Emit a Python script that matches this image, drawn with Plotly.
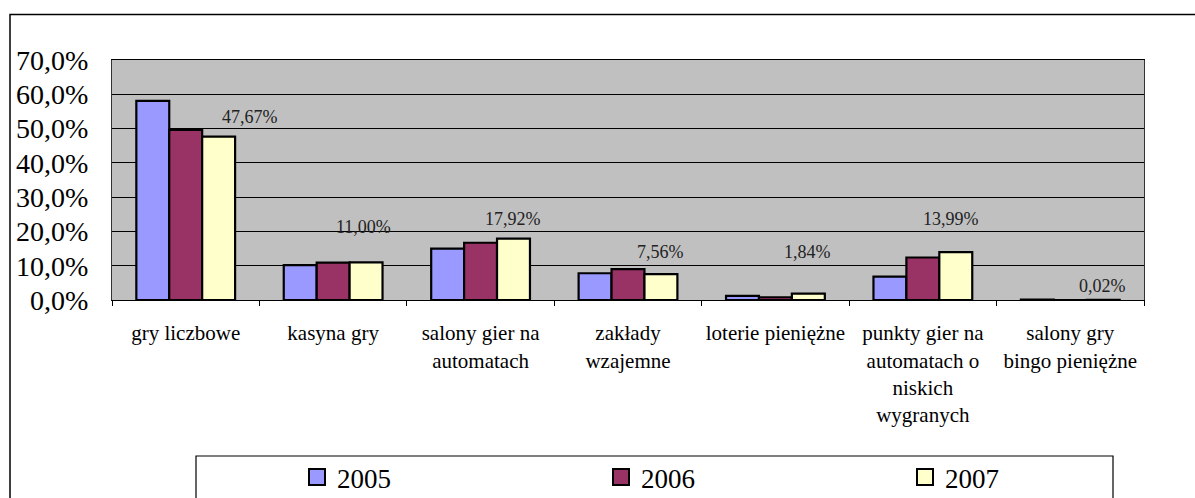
import plotly.graph_objects as go

categories = [
    "gry liczbowe",
    "kasyna gry",
    "salony gier na<br>automatach",
    "zakłady<br>wzajemne",
    "loterie pieniężne",
    "punkty gier na<br>automatach o<br>niskich<br>wygranych",
    "salony gry<br>bingo pieniężne",
]
years = ["2005", "2006", "2007"]
v2005 = [58.1, 10.2, 15.0, 7.8, 1.2, 6.8, 0.1]
v2006 = [49.6, 10.9, 16.7, 9.0, 0.8, 12.4, 0.0]
v2007 = [47.67, 11.00, 17.92, 7.56, 1.84, 13.99, 0.02]
labels2007 = ["47,67%", "11,00%", "17,92%", "7,56%", "1,84%", "13,99%", "0,02%"]
ytick_vals = [0, 10, 20, 30, 40, 50, 60, 70]
ytick_text = ["0,0%", "10,0%", "20,0%", "30,0%", "40,0%", "50,0%", "60,0%", "70,0%"]

colors = ["#9999FF", "#993366", "#FFFFCC"]
series = [v2005, v2006, v2007]
# label offsets (px) relative to top of 2007 bar at category center
label_offsets = [(64, 20), (30, 35), (32, 20), (32, 22), (32, 42), (28, 33), (32, 14)]

FONT = "Liberation Serif"

# plot area in px
L, R, T, B = 112, 1144, 60, 300
W, H = 1195, 498
def px_x(x):
    return (x - L) / (R - L)
def px_y(y):
    return (B - y) / (B - T)

fig = go.Figure()
for name, vals, col in zip(years, series, colors):
    fig.add_trace(go.Bar(
        x=categories, y=vals, name=name, showlegend=False,
        marker=dict(color=col, line=dict(color="black", width=2.2)),
        hoverinfo="skip",
    ))
# legend entries
for name, col in zip(years, colors):
    fig.add_trace(go.Scatter(
        x=[None], y=[None], mode="markers", name=name,
        marker=dict(symbol="square", size=16, color=col, line=dict(color="black", width=2)),
    ))

for cat, val, txt, (dx, dy) in zip(categories, v2007, labels2007, label_offsets):
    fig.add_annotation(
        x=cat, y=val, text=txt, showarrow=False,
        xshift=dx, yshift=dy, font=dict(family=FONT, size=18, color="#222"),
    )

shapes = [
    # outer chart border
    dict(type="rect", xref="paper", yref="paper",
         x0=px_x(10), x1=px_x(1210), y0=px_y(520), y1=px_y(14.5),
         line=dict(color="black", width=1.5), fillcolor="rgba(0,0,0,0)", layer="below"),
    # legend box
    dict(type="rect", xref="paper", yref="paper",
         x0=px_x(196), x1=px_x(1113), y0=px_y(530), y1=px_y(456),
         line=dict(color="black", width=1.2), fillcolor="rgba(0,0,0,0)"),
]

fig.update_layout(
    width=W, height=H,
    margin=dict(l=L, r=W - R, t=T, b=H - B),
    paper_bgcolor="white",
    plot_bgcolor="#C0C0C0",
    barmode="group", bargap=0.33, bargroupgap=0,
    font=dict(family=FONT, color="black"),
    shapes=shapes,
    legend=dict(
        orientation="h", xref="container", yref="container",
        x=297 / W, xanchor="left", y=1 - 453 / H, yanchor="top",
        entrywidth=259, entrywidthmode="pixels",
        font=dict(family=FONT, size=27, color="black"),
        itemsizing="trace", bgcolor="rgba(0,0,0,0)", borderwidth=0,
    ),
    xaxis=dict(
        type="category", showline=True, linecolor="black", linewidth=1, mirror=True,
        ticks="outside", tickson="boundaries", ticklen=5, tickcolor="black",
        tickfont=dict(family=FONT, size=21, color="black"),
        tickangle=0, ticklabelstandoff=14,
        showgrid=False, automargin=False,
    ),
    yaxis=dict(
        range=[0, 70], tickvals=ytick_vals, ticktext=ytick_text,
        showgrid=True, gridcolor="black", gridwidth=1,
        showline=True, linecolor="#333", linewidth=1, mirror=True,
        ticks="", ticklabelstandoff=17,
        tickfont=dict(family=FONT, size=28, color="black"),
        zeroline=False, automargin=False,
    ),
    showlegend=True,
)

fig.write_html("out.html", post_script="document.body.style.margin='0';",
               config={"displayModeBar": False})
